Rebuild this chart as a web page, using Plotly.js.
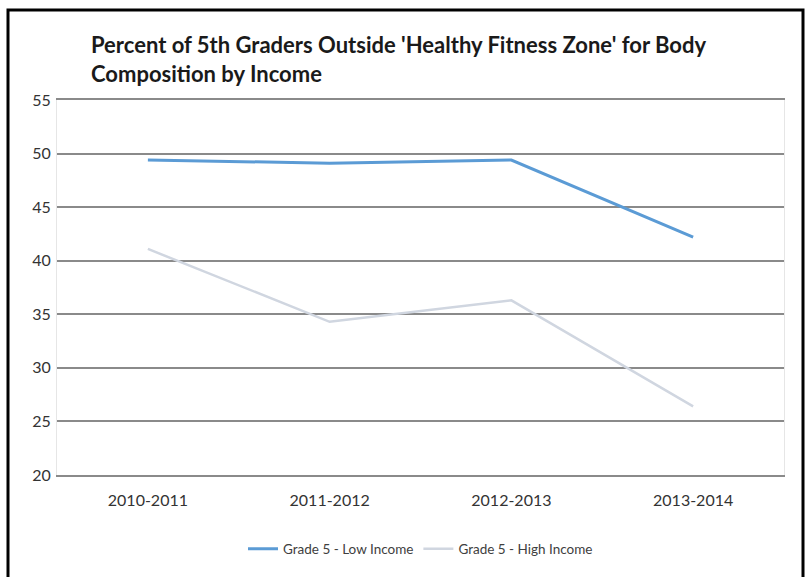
<!DOCTYPE html>
<html><head><meta charset="utf-8">
<script src="https://cdn.plot.ly/plotly-3.0.1.min.js"></script>
<style>html,body{margin:0;padding:0;background:#fff;}#chart{width:806px;height:577px;}</style>
</head><body><div id="chart"></div>
<script>
var years = ['2010-2011', '2011-2012', '2012-2013', '2013-2014'];
var lowIncome = [49.4, 49.1, 49.4, 42.2];
var highIncome = [41.1, 34.3, 36.3, 26.4];
var seriesNames = ['Grade 5 - Low Income', 'Grade 5 - High Income'];
var yTicks = [20, 25, 30, 35, 40, 45, 50, 55];

var fontFam = 'Lato, "Open Sans", Arial, sans-serif';
var traces = [
  {x: years, y: lowIncome, name: seriesNames[0], type: 'scatter', mode: 'lines',
   line: {color: '#5b9bd5', width: 3}},
  {x: years, y: highIncome, name: seriesNames[1], type: 'scatter', mode: 'lines',
   line: {color: '#d0d6e0', width: 2.5}}
];
var layout = {
  width: 806, height: 577,
  margin: {l: 57, r: 22, t: 100, b: 102},
  paper_bgcolor: '#fff', plot_bgcolor: '#fff',
  font: {family: fontFam, color: '#333333', size: 16},
  title: {text: "Percent of 5th Graders Outside 'Healthy Fitness Zone' for Body<br>Composition by Income",
    x: 91/806, xanchor: 'left', xref: 'container',
    y: 1 - 53/577, yanchor: 'top', yref: 'container',
    font: {family: fontFam, size: 22, color: '#1a1a1a', weight: 'bold'}},
  xaxis: {type: 'category', range: [-0.5, 3.5], showgrid: false, zeroline: false,
    showline: true, mirror: true, linecolor: '#8a8a8a', linewidth: 2,
    ticks: '', ticklabelstandoff: 10, tickfont: {size: 16, color: '#333333'}, fixedrange: true},
  yaxis: {range: [20, 55], tickvals: yTicks, showgrid: true, gridcolor: '#8a8a8a', gridwidth: 2,
    zeroline: false, showline: true, mirror: true, linecolor: '#e6e6e6', linewidth: 1,
    ticks: '', ticklen: 0, ticklabelstandoff: 2,
    tickfont: {size: 16, color: '#333333'}, fixedrange: true},
  showlegend: true,
  legend: {orientation: 'h', x: 0.5, xanchor: 'center', y: -0.197, yanchor: 'middle',
    font: {size: 13.5, color: '#404040'}},
  shapes: [{type: 'rect', xref: 'paper', yref: 'paper',
    x0: (8-57)/727, x1: (803-57)/727, y0: -0.3, y1: (475-10)/375,
    line: {color: '#000', width: 3}, fillcolor: 'rgba(0,0,0,0)'}]
};
Plotly.newPlot('chart', traces, layout, {displayModeBar: false, staticPlot: true});
</script></body></html>
